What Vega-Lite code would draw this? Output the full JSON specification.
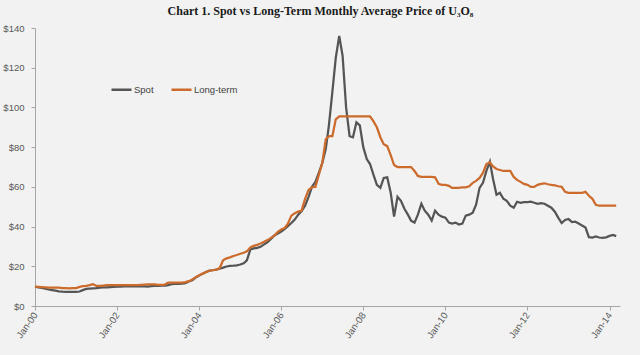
{
  "$schema": "https://vega.github.io/schema/vega-lite/v6.json",
  "width": 585,
  "height": 278,
  "autosize": {"type": "none"},
  "padding": {"left": 35, "top": 28, "right": 20, "bottom": 49},
  "background": "#f2f2f2",
  "title": {
    "text": "Chart 1. Spot vs Long-Term Monthly Average Price of U₃O₈",
    "font": "Liberation Serif",
    "fontSize": 12,
    "fontWeight": "bold",
    "color": "#1a1a1a",
    "anchor": "middle",
    "baseline": "alphabetic",
    "offset": -4,
    "dx": -7
  },
  "data": {
    "values": [
      {"d": "2000-01-01", "s": 9.7, "l": 9.7},
      {"d": "2000-02-01", "s": 9.4, "l": 9.6},
      {"d": "2000-03-01", "s": 9.1, "l": 9.5},
      {"d": "2000-04-01", "s": 8.7, "l": 9.4},
      {"d": "2000-05-01", "s": 8.3, "l": 9.3},
      {"d": "2000-06-01", "s": 8.0, "l": 9.3},
      {"d": "2000-07-01", "s": 7.7, "l": 9.3},
      {"d": "2000-08-01", "s": 7.4, "l": 9.2},
      {"d": "2000-09-01", "s": 7.2, "l": 9.0},
      {"d": "2000-10-01", "s": 7.1, "l": 9.0},
      {"d": "2000-11-01", "s": 7.1, "l": 8.9},
      {"d": "2000-12-01", "s": 7.1, "l": 9.0},
      {"d": "2001-01-01", "s": 7.1, "l": 9.0},
      {"d": "2001-02-01", "s": 7.3, "l": 9.6},
      {"d": "2001-03-01", "s": 8.0, "l": 10.0},
      {"d": "2001-04-01", "s": 8.6, "l": 10.1},
      {"d": "2001-05-01", "s": 8.8, "l": 10.5},
      {"d": "2001-06-01", "s": 8.9, "l": 11.0},
      {"d": "2001-07-01", "s": 9.0, "l": 10.1},
      {"d": "2001-08-01", "s": 9.2, "l": 10.1},
      {"d": "2001-09-01", "s": 9.4, "l": 10.3},
      {"d": "2001-10-01", "s": 9.4, "l": 10.5},
      {"d": "2001-11-01", "s": 9.5, "l": 10.5},
      {"d": "2001-12-01", "s": 9.6, "l": 10.5},
      {"d": "2002-01-01", "s": 9.7, "l": 10.5},
      {"d": "2002-02-01", "s": 9.8, "l": 10.5},
      {"d": "2002-03-01", "s": 9.9, "l": 10.5},
      {"d": "2002-04-01", "s": 9.9, "l": 10.5},
      {"d": "2002-05-01", "s": 9.9, "l": 10.5},
      {"d": "2002-06-01", "s": 9.9, "l": 10.5},
      {"d": "2002-07-01", "s": 9.9, "l": 10.5},
      {"d": "2002-08-01", "s": 9.9, "l": 10.7},
      {"d": "2002-09-01", "s": 9.9, "l": 10.8},
      {"d": "2002-10-01", "s": 9.8, "l": 10.9},
      {"d": "2002-11-01", "s": 10.0, "l": 10.9},
      {"d": "2002-12-01", "s": 10.1, "l": 10.9},
      {"d": "2003-01-01", "s": 10.1, "l": 10.6},
      {"d": "2003-02-01", "s": 10.2, "l": 10.6},
      {"d": "2003-03-01", "s": 10.2, "l": 10.8},
      {"d": "2003-04-01", "s": 10.5, "l": 11.8},
      {"d": "2003-05-01", "s": 11.0, "l": 11.8},
      {"d": "2003-06-01", "s": 11.1, "l": 11.8},
      {"d": "2003-07-01", "s": 11.2, "l": 11.8},
      {"d": "2003-08-01", "s": 11.3, "l": 11.8},
      {"d": "2003-09-01", "s": 11.5, "l": 12.0},
      {"d": "2003-10-01", "s": 12.3, "l": 12.5},
      {"d": "2003-11-01", "s": 13.0, "l": 13.3},
      {"d": "2003-12-01", "s": 14.3, "l": 14.5},
      {"d": "2004-01-01", "s": 15.3, "l": 15.5},
      {"d": "2004-02-01", "s": 16.3, "l": 16.3},
      {"d": "2004-03-01", "s": 17.1, "l": 17.0},
      {"d": "2004-04-01", "s": 17.8, "l": 17.8},
      {"d": "2004-05-01", "s": 18.0, "l": 18.0},
      {"d": "2004-06-01", "s": 18.3, "l": 18.3},
      {"d": "2004-07-01", "s": 18.8, "l": 19.0},
      {"d": "2004-08-01", "s": 19.3, "l": 23.0},
      {"d": "2004-09-01", "s": 19.9, "l": 24.0},
      {"d": "2004-10-01", "s": 20.2, "l": 24.5},
      {"d": "2004-11-01", "s": 20.3, "l": 25.2},
      {"d": "2004-12-01", "s": 20.5, "l": 25.7},
      {"d": "2005-01-01", "s": 20.9, "l": 26.3},
      {"d": "2005-02-01", "s": 21.5, "l": 26.8},
      {"d": "2005-03-01", "s": 23.0, "l": 27.5},
      {"d": "2005-04-01", "s": 28.5, "l": 29.5},
      {"d": "2005-05-01", "s": 29.0, "l": 30.3},
      {"d": "2005-06-01", "s": 29.3, "l": 30.8},
      {"d": "2005-07-01", "s": 29.8, "l": 31.5},
      {"d": "2005-08-01", "s": 31.0, "l": 32.3},
      {"d": "2005-09-01", "s": 32.2, "l": 33.2},
      {"d": "2005-10-01", "s": 33.8, "l": 34.3},
      {"d": "2005-11-01", "s": 35.5, "l": 35.5},
      {"d": "2005-12-01", "s": 36.5, "l": 37.3},
      {"d": "2006-01-01", "s": 37.5, "l": 38.5},
      {"d": "2006-02-01", "s": 38.8, "l": 39.3},
      {"d": "2006-03-01", "s": 40.2, "l": 41.5},
      {"d": "2006-04-01", "s": 41.8, "l": 45.5},
      {"d": "2006-05-01", "s": 43.5, "l": 46.7},
      {"d": "2006-06-01", "s": 46.0, "l": 47.5},
      {"d": "2006-07-01", "s": 47.8, "l": 48.0},
      {"d": "2006-08-01", "s": 50.5, "l": 54.0},
      {"d": "2006-09-01", "s": 55.0, "l": 58.5},
      {"d": "2006-10-01", "s": 60.0, "l": 59.8},
      {"d": "2006-11-01", "s": 62.5, "l": 60.0},
      {"d": "2006-12-01", "s": 67.0, "l": 66.0},
      {"d": "2007-01-01", "s": 72.0, "l": 72.0},
      {"d": "2007-02-01", "s": 79.0, "l": 84.0},
      {"d": "2007-03-01", "s": 91.0, "l": 85.5},
      {"d": "2007-04-01", "s": 108.0, "l": 85.5},
      {"d": "2007-05-01", "s": 125.0, "l": 94.0},
      {"d": "2007-06-01", "s": 136.0, "l": 95.5},
      {"d": "2007-07-01", "s": 126.0, "l": 95.5},
      {"d": "2007-08-01", "s": 100.0, "l": 95.5},
      {"d": "2007-09-01", "s": 85.5, "l": 95.5},
      {"d": "2007-10-01", "s": 85.0, "l": 95.5},
      {"d": "2007-11-01", "s": 92.5, "l": 95.5},
      {"d": "2007-12-01", "s": 91.0, "l": 95.5},
      {"d": "2008-01-01", "s": 80.0, "l": 95.5},
      {"d": "2008-02-01", "s": 74.0, "l": 95.5},
      {"d": "2008-03-01", "s": 71.5, "l": 95.5},
      {"d": "2008-04-01", "s": 66.0, "l": 93.0},
      {"d": "2008-05-01", "s": 61.0, "l": 90.0},
      {"d": "2008-06-01", "s": 59.5, "l": 85.0},
      {"d": "2008-07-01", "s": 64.5, "l": 81.5},
      {"d": "2008-08-01", "s": 64.8, "l": 80.5},
      {"d": "2008-09-01", "s": 57.0, "l": 76.0},
      {"d": "2008-10-01", "s": 45.0, "l": 71.0},
      {"d": "2008-11-01", "s": 55.0, "l": 70.0},
      {"d": "2008-12-01", "s": 53.0, "l": 70.0},
      {"d": "2009-01-01", "s": 49.0, "l": 70.0},
      {"d": "2009-02-01", "s": 46.0, "l": 70.0},
      {"d": "2009-03-01", "s": 43.0, "l": 70.0},
      {"d": "2009-04-01", "s": 42.0, "l": 68.0},
      {"d": "2009-05-01", "s": 46.0, "l": 65.5},
      {"d": "2009-06-01", "s": 51.5, "l": 65.0},
      {"d": "2009-07-01", "s": 48.0, "l": 65.0},
      {"d": "2009-08-01", "s": 46.0, "l": 65.0},
      {"d": "2009-09-01", "s": 43.0, "l": 65.0},
      {"d": "2009-10-01", "s": 48.0, "l": 64.8},
      {"d": "2009-11-01", "s": 46.0, "l": 61.5},
      {"d": "2009-12-01", "s": 45.0, "l": 61.0},
      {"d": "2010-01-01", "s": 44.5, "l": 61.0},
      {"d": "2010-02-01", "s": 42.0, "l": 60.5},
      {"d": "2010-03-01", "s": 41.5, "l": 59.5},
      {"d": "2010-04-01", "s": 42.0, "l": 59.5},
      {"d": "2010-05-01", "s": 41.0, "l": 59.5},
      {"d": "2010-06-01", "s": 41.5, "l": 59.8},
      {"d": "2010-07-01", "s": 45.5, "l": 59.8},
      {"d": "2010-08-01", "s": 46.0, "l": 60.3},
      {"d": "2010-09-01", "s": 47.0, "l": 62.0},
      {"d": "2010-10-01", "s": 51.0, "l": 63.0},
      {"d": "2010-11-01", "s": 59.5, "l": 64.5},
      {"d": "2010-12-01", "s": 62.0, "l": 67.0},
      {"d": "2011-01-01", "s": 68.0, "l": 71.5},
      {"d": "2011-02-01", "s": 72.7, "l": 72.3},
      {"d": "2011-03-01", "s": 64.0, "l": 70.3},
      {"d": "2011-04-01", "s": 56.0, "l": 69.0},
      {"d": "2011-05-01", "s": 57.0, "l": 68.5},
      {"d": "2011-06-01", "s": 54.0, "l": 68.0},
      {"d": "2011-07-01", "s": 53.0, "l": 68.0},
      {"d": "2011-08-01", "s": 50.5, "l": 68.0},
      {"d": "2011-09-01", "s": 49.5, "l": 65.0},
      {"d": "2011-10-01", "s": 52.5, "l": 63.5},
      {"d": "2011-11-01", "s": 52.0, "l": 62.5},
      {"d": "2011-12-01", "s": 52.3, "l": 61.5},
      {"d": "2012-01-01", "s": 52.3, "l": 61.0},
      {"d": "2012-02-01", "s": 52.5, "l": 60.0},
      {"d": "2012-03-01", "s": 52.0, "l": 60.0},
      {"d": "2012-04-01", "s": 51.5, "l": 61.0},
      {"d": "2012-05-01", "s": 51.8, "l": 61.5},
      {"d": "2012-06-01", "s": 51.5, "l": 61.8},
      {"d": "2012-07-01", "s": 50.5, "l": 61.3},
      {"d": "2012-08-01", "s": 49.5, "l": 61.0},
      {"d": "2012-09-01", "s": 47.5, "l": 60.8},
      {"d": "2012-10-01", "s": 44.5, "l": 60.3},
      {"d": "2012-11-01", "s": 41.8, "l": 60.0},
      {"d": "2012-12-01", "s": 43.3, "l": 57.5},
      {"d": "2013-01-01", "s": 43.8, "l": 57.0},
      {"d": "2013-02-01", "s": 42.3, "l": 57.0},
      {"d": "2013-03-01", "s": 42.5, "l": 57.0},
      {"d": "2013-04-01", "s": 41.5, "l": 57.0},
      {"d": "2013-05-01", "s": 40.5, "l": 57.0},
      {"d": "2013-06-01", "s": 39.5, "l": 57.5},
      {"d": "2013-07-01", "s": 34.7, "l": 55.5},
      {"d": "2013-08-01", "s": 34.5, "l": 54.0},
      {"d": "2013-09-01", "s": 35.0, "l": 51.0},
      {"d": "2013-10-01", "s": 34.5, "l": 50.5},
      {"d": "2013-11-01", "s": 34.3, "l": 50.5},
      {"d": "2013-12-01", "s": 34.6, "l": 50.5},
      {"d": "2014-01-01", "s": 35.3, "l": 50.5},
      {"d": "2014-02-01", "s": 35.8, "l": 50.5},
      {"d": "2014-03-01", "s": 35.2, "l": 50.5}
    ]
  },
  "encoding": {
    "x": {
      "field": "d",
      "type": "temporal",
      "title": null,
      "scale": {
        "type": "utc",
        "domain": [
          {"year": 2000, "month": 1, "date": 1, "utc": true},
          {"year": 2014, "month": 4, "date": 4, "utc": true}
        ]
      },
      "axis": {
        "values": [
          {"year": 2000, "month": 1, "date": 1, "utc": true},
          {"year": 2002, "month": 1, "date": 1, "utc": true},
          {"year": 2004, "month": 1, "date": 1, "utc": true},
          {"year": 2006, "month": 1, "date": 1, "utc": true},
          {"year": 2008, "month": 1, "date": 1, "utc": true},
          {"year": 2010, "month": 1, "date": 1, "utc": true},
          {"year": 2012, "month": 1, "date": 1, "utc": true},
          {"year": 2014, "month": 1, "date": 1, "utc": true}
        ],
        "labelExpr": "utcFormat(datum.value, '%b-%y')",
        "labelAngle": -55,
        "labelFont": "Liberation Sans",
        "labelFontSize": 9.5,
        "labelColor": "#595959",
        "labelPadding": 3,
        "tickSize": 4,
        "tickColor": "#a6a6a6",
        "domainColor": "#a6a6a6",
        "grid": false,
        "labelFlush": false,
        "labelOverlap": false
      }
    }
  },
  "layer": [
    {
      "mark": {"type": "line", "strokeWidth": 2.25, "interpolate": "linear"},
      "encoding": {
        "y": {
          "field": "s",
          "type": "quantitative",
          "title": null,
          "scale": {"domain": [0, 140], "nice": false},
          "axis": {
            "values": [0, 20, 40, 60, 80, 100, 120, 140],
            "labelExpr": "'$' + datum.value",
            "labelFont": "Liberation Sans",
            "labelFontSize": 9.5,
            "labelColor": "#595959",
            "labelPadding": 7,
            "labelOverlap": false,
            "tickSize": 4,
            "tickColor": "#a6a6a6",
            "domainColor": "#a6a6a6",
            "grid": false
          }
        },
        "color": {
          "datum": "Spot",
          "scale": {"domain": ["Spot", "Long-term"], "range": ["#555555", "#cc6b2c"]},
          "legend": {
            "orient": "none",
            "legendX": 75,
            "legendY": 50,
            "direction": "horizontal",
            "title": null,
            "symbolType": "stroke",
            "symbolSize": 400,
            "symbolStrokeWidth": 2.5,
            "labelFont": "Liberation Sans",
            "labelFontSize": 9.5,
            "labelColor": "#404040",
            "labelOffset": 1,
            "columnPadding": 12,
            "padding": 0
          }
        }
      }
    },
    {
      "mark": {"type": "line", "strokeWidth": 2.25, "interpolate": "linear"},
      "encoding": {
        "y": {
          "field": "l",
          "type": "quantitative",
          "title": null,
          "scale": {"domain": [0, 140], "nice": false},
          "axis": {
            "values": [0, 20, 40, 60, 80, 100, 120, 140],
            "labelExpr": "'$' + datum.value",
            "labelFont": "Liberation Sans",
            "labelFontSize": 9.5,
            "labelColor": "#595959",
            "labelPadding": 7,
            "labelOverlap": false,
            "tickSize": 4,
            "tickColor": "#a6a6a6",
            "domainColor": "#a6a6a6",
            "grid": false
          }
        },
        "color": {"datum": "Long-term"}
      }
    }
  ],
  "config": {
    "view": {"stroke": null}
  }
}
